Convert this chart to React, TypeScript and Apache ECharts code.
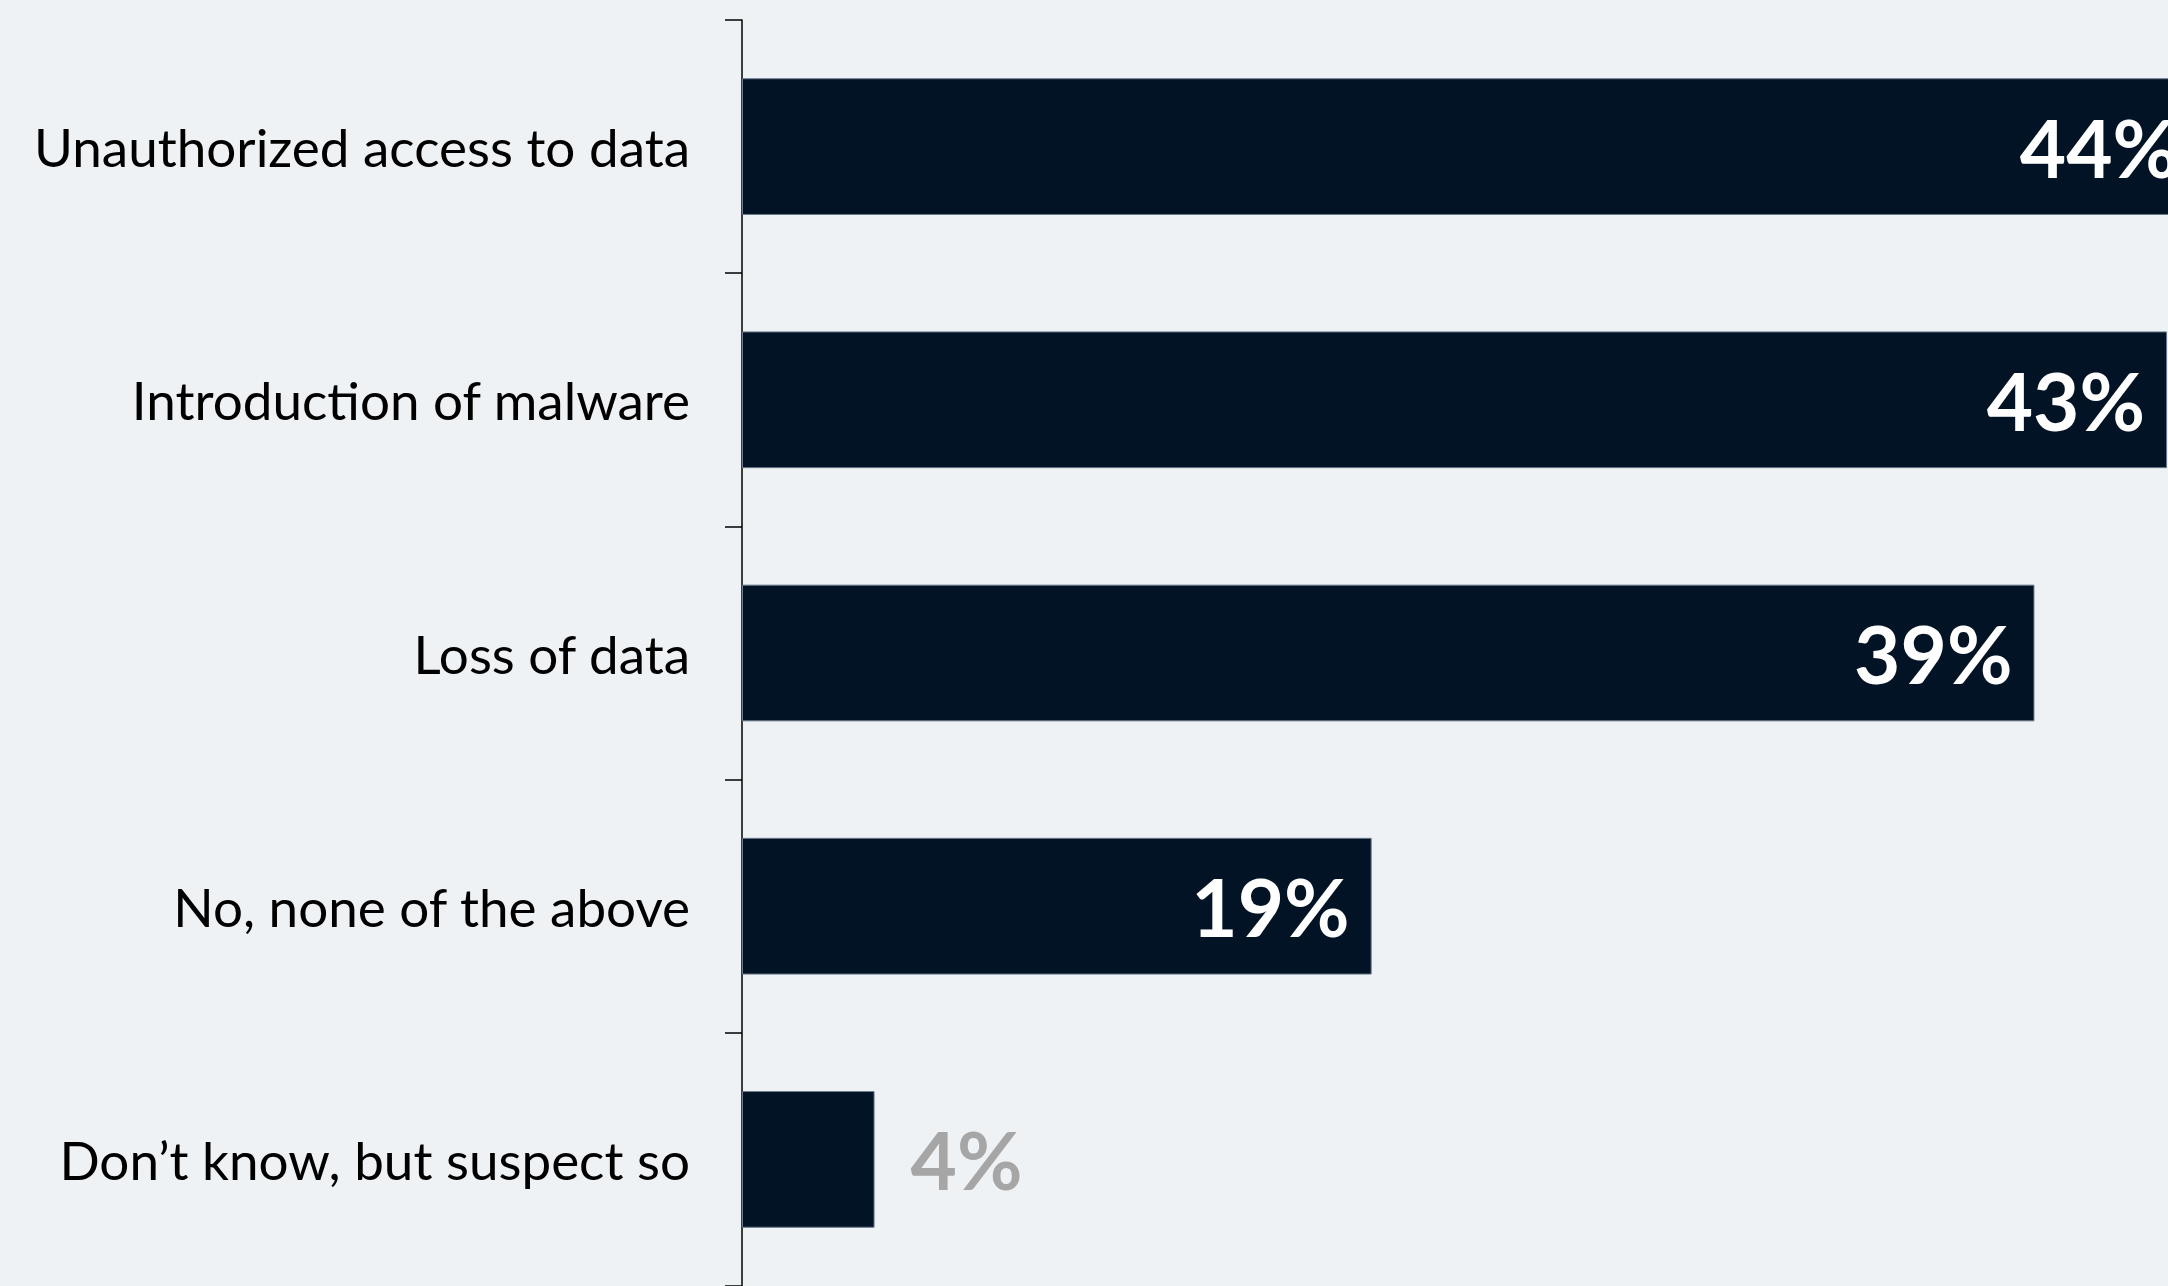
import React, { useEffect, useRef } from "react";
import * as echarts from "echarts";

const categories = [
  "Unauthorized access to data",
  "Introduction of malware",
  "Loss of data",
  "No, none of the above",
  "Don’t know, but suspect so",
];
const values = [44, 43, 39, 19, 4];
const outsideThreshold = 10;

export default function App() {
  const ref = useRef<HTMLDivElement>(null);
  useEffect(() => {
    if (!ref.current) return;
    const chart = echarts.init(ref.current, undefined, { renderer: "svg" });
    const data = values.map((v) => ({
      value: v,
      label:
        v < outsideThreshold
          ? { position: "right", distance: 36, color: "#a6a6a6" }
          : { position: "insideRight", distance: 22, color: "#ffffff" },
    }));
    chart.setOption({
      animation: false,
      backgroundColor: "#eef2f4",
      grid: { left: 742, top: 20, width: 1657, height: 1276, containLabel: false },
      xAxis: {
        type: "value",
        min: 0,
        max: 50,
        show: false,
      },
      yAxis: {
        type: "category",
        inverse: true,
        data: categories,
        axisLine: { show: true, lineStyle: { color: "#000000", width: 1.5 } },
        axisTick: { show: true, length: 17, lineStyle: { color: "#000000", width: 1.5 } },
        axisLabel: {
          color: "#000000",
          fontFamily: "Lato",
          fontSize: 53,
          margin: 52,
          padding: [0, 0, 8, 0],
        },
        splitLine: { show: false },
      },
      series: [
        {
          type: "bar",
          data,
          barWidth: "54%",
          itemStyle: { color: "#031326", borderColor: "#6b7a8c", borderWidth: 1 },
          label: {
            show: true,
            formatter: "{c}%",
            fontFamily: "Lato",
            fontWeight: "bold",
            fontSize: 80,
          },
        },
      ],
    });
    return () => chart.dispose();
  }, []);
  return (
    <div
      style={{
        position: "fixed",
        left: 0,
        top: 0,
        width: 2168,
        height: 1286,
        overflow: "hidden",
        background: "#eef2f4",
      }}
    >
      <div ref={ref} style={{ width: 2500, height: 1286 }} />
    </div>
  );
}
